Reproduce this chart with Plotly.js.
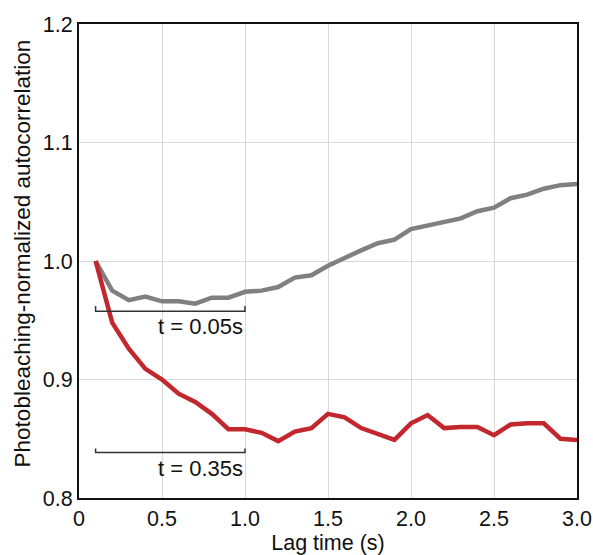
<!DOCTYPE html>
<html>
<head>
<meta charset="utf-8">
<script src="https://cdn.plot.ly/plotly-3.0.1.min.js"></script>
<style>html,body{margin:0;padding:0;background:#fff;}#chart{width:593px;height:555px;}</style>
</head>
<body>
<div id="chart"></div>
<script>
const lagTime = [0.1,0.2,0.3,0.4,0.5,0.6,0.7,0.8,0.9,1.0,1.1,1.2,1.3,1.4,1.5,1.6,1.7,1.8,1.9,2.0,2.1,2.2,2.3,2.4,2.5,2.6,2.7,2.8,2.9,3.0];
const graySeries = [1.000,0.975,0.967,0.970,0.966,0.966,0.964,0.969,0.969,0.974,0.975,0.978,0.986,0.988,0.996,1.003,1.009,1.015,1.018,1.027,1.030,1.033,1.036,1.042,1.045,1.053,1.056,1.061,1.064,1.065];
const redSeries = [1.000,0.948,0.926,0.909,0.900,0.888,0.881,0.871,0.858,0.858,0.855,0.848,0.856,0.859,0.871,0.868,0.859,0.854,0.849,0.863,0.870,0.859,0.860,0.860,0.853,0.862,0.863,0.863,0.850,0.849];
const xTickVals = [0,0.5,1.0,1.5,2.0,2.5,3.0];
const xTickText = ['0','0.5','1.0','1.5','2.0','2.5','3.0'];
const yTickVals = [0.8,0.9,1.0,1.1,1.2];
const yTickText = ['0.8','0.9','1.0','1.1','1.2'];
const bracketLabels = ['t = 0.05s','t = 0.35s'];
const yTitle = 'Photobleaching-normalized autocorrelation';

const font = 'Liberation Sans, Arial, Helvetica, sans-serif';
const traces = [
  {x: lagTime, y: graySeries, type:'scatter', mode:'lines', line:{color:'#808082', width:4.5}, hoverinfo:'skip'},
  {x: lagTime, y: redSeries, type:'scatter', mode:'lines', line:{color:'#c1272d', width:4.5}, hoverinfo:'skip'}
];
function bracket(y0, y1){
  return {type:'path', xref:'x', yref:'y',
    path:`M 0.1 ${y1} L 0.1 ${y0} L 1.0 ${y0} L 1.0 ${y1}`,
    line:{color:'#333333', width:1.5}};
}
const layout = {
  width:593, height:555,
  margin:{l:79, r:16, t:24, b:57},
  paper_bgcolor:'#fff', plot_bgcolor:'#fff',
  showlegend:false,
  font:{family:font, size:21.5, color:'#111'},
  xaxis:{range:[0,3.0], tickvals:xTickVals, ticktext:xTickText, showgrid:true, gridcolor:'#d9d9d9', gridwidth:1,
    zeroline:false, showline:true, linecolor:'#111', linewidth:2, mirror:true, ticks:'', ticklen:0,
    tickfont:{family:font, size:21.5, color:'#111'},
    title:{text:'Lag time (s)', font:{family:font, size:21.5, color:'#111'}, standoff:4}},
  yaxis:{range:[0.8,1.2], tickvals:yTickVals, ticktext:yTickText, showgrid:true, gridcolor:'#d9d9d9', gridwidth:1,
    zeroline:false, showline:true, linecolor:'#111', linewidth:2, mirror:true, ticks:'', ticklen:0,
    tickfont:{family:font, size:21.5, color:'#111'}},
  shapes:[bracket(0.9576, 0.962), bracket(0.8384, 0.8418)],
  annotations:[
    {x:1.0, y:0.9576, xref:'x', yref:'y', text:bracketLabels[0], showarrow:false, xanchor:'right', yanchor:'top', yshift:-1, font:{family:font, size:22, color:'#111'}},
    {x:1.0, y:0.8384, xref:'x', yref:'y', text:bracketLabels[1], showarrow:false, xanchor:'right', yanchor:'top', yshift:-1, font:{family:font, size:22, color:'#111'}},
    {x:0, y:0.516, xref:'paper', yref:'paper', xshift:-57, text:yTitle, textangle:-90, showarrow:false, xanchor:'center', yanchor:'middle', font:{family:font, size:22.5, color:'#111'}}
  ]
};
Plotly.newPlot('chart', traces, layout, {displayModeBar:false, staticPlot:true});
</script>
</body>
</html>
